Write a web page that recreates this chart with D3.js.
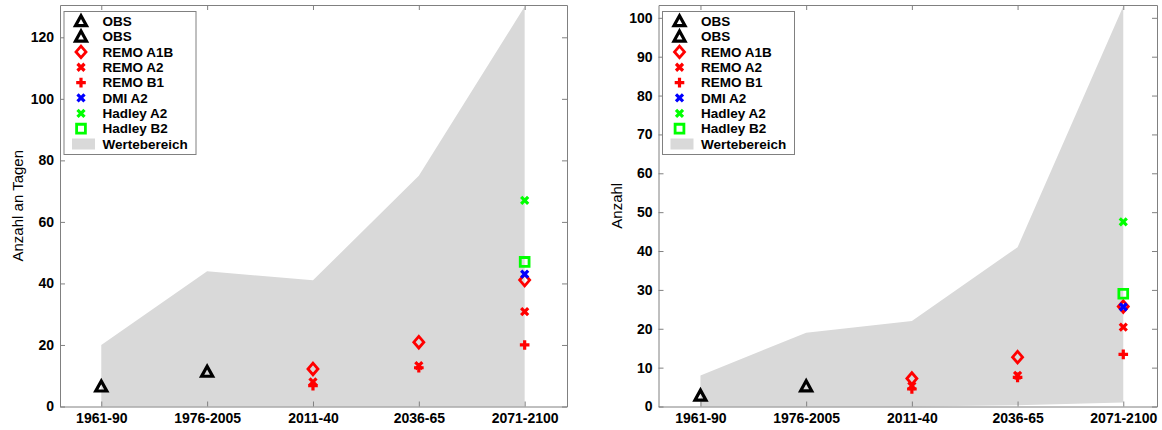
<!DOCTYPE html>
<html>
<head>
<meta charset="utf-8">
<script src="https://cdn.jsdelivr.net/npm/d3@7"></script>
<style>
  body { margin: 0; background: #fff; }
  svg text { font-family: "Liberation Sans", Arial, Helvetica, sans-serif; }
</style>
</head>
<body>
<div id="chart"></div>
<script>
// categories (time periods)
var periods = ['1961-90', '1976-2005', '2011-40', '2036-65', '2071-2100'];

// left panel: Anzahl an Tagen
var leftObs1     = [6.5, null, null, null, null];
var leftObs2     = [null, 11.3, null, null, null];
var leftRemoA1B  = [null, null, 12.2, 20.9, 41.1];
var leftRemoA2   = [null, null, 8.0, 13.3, 30.8];
var leftRemoB1   = [null, null, 6.8, 12.6, 20.0];
var leftDmiA2    = [null, null, null, null, 43.0];
var leftHadA2    = [null, null, null, null, 67.0];
var leftHadB2    = [null, null, null, null, 47.0];
var leftRangeLo  = [0, 0, 0, 0, 0];
var leftRangeHi  = [20, 44, 41, 75, 130];
var leftTicks    = [0, 20, 40, 60, 80, 100, 120];

// right panel: Anzahl
var rightObs1    = [2.8, null, null, null, null];
var rightObs2    = [null, 5.2, null, null, null];
var rightRemoA1B = [null, null, 7.2, 12.7, 25.7];
var rightRemoA2  = [null, null, 5.3, 8.0, 20.4];
var rightRemoB1  = [null, null, 4.5, 7.5, 13.4];
var rightDmiA2   = [null, null, null, null, 25.6];
var rightHadA2   = [null, null, null, null, 47.5];
var rightHadB2   = [null, null, null, null, 29.0];
var rightRangeLo = [0, 0, 0, 0.3, 1];
var rightRangeHi = [8, 19, 22, 41, 103];
var rightTicks   = [0, 10, 20, 30, 40, 50, 60, 70, 80, 90, 100];

var legendNames = ['OBS', 'OBS', 'REMO A1B', 'REMO A2', 'REMO B1', 'DMI A2', 'Hadley A2', 'Hadley B2'];
var legendSymbols = ['tri', 'tri', 'diamond', 'cross', 'plus', 'cross', 'cross', 'square'];
var legendColors = ['#000000', '#000000', '#ff0000', '#ff0000', '#ff0000', '#0000ff', '#00ff00', '#00ff00'];

var rangeColor = '#d9d9d9';
var axisColor = '#808080';

var svg = d3.select('#chart').append('svg')
  .attr('width', 1162)
  .attr('height', 430);

// symbol path + stroke width
function symbolPath(type) {
  switch (type) {
    case 'tri': return 'M0,-5.5L5.5,4.5L-5.5,4.5Z';
    case 'diamond': return 'M0,-5.8L5,0L0,5.8L-5,0Z';
    case 'cross': return 'M-3.5,-3.5L3.5,3.5M-3.5,3.5L3.5,-3.5';
    case 'plus': return 'M-4.8,0L4.8,0M0,-4.8L0,4.8';
    case 'square': return 'M-4.4,-4.4L4.4,-4.4L4.4,4.4L-4.4,4.4Z';
  }
}
function symbolWidth(type) {
  if (type == 'tri') return 3.2;
  if (type == 'cross' || type == 'plus') return 3.2;
  return 2.8;
}

function drawPanel(opt) {
  var g = svg.append('g');

  var x = d3.scaleLinear().domain(opt.xDomain).range([opt.left, opt.right]);
  var y = d3.scaleLinear().domain(opt.yDomain).range([opt.bottom, opt.top]);

  // range polygon (Wertebereich)
  var area = d3.area()
    .x(function(d, i) { return x(i + 1); })
    .y0(function(d, i) { return y(opt.lo[i]); })
    .y1(function(d) { return y(d); });
  g.append('path')
    .datum(opt.hi)
    .attr('d', area)
    .attr('fill', rangeColor);

  // axes box
  var yAxisL = d3.axisLeft(y).tickValues(opt.ticks).tickSizeInner(-5).tickSizeOuter(0).tickPadding(6);
  var yAxisR = d3.axisRight(y).tickValues(opt.ticks).tickSizeInner(-5).tickSizeOuter(0).tickFormat('');
  var xAxisB = d3.axisBottom(x).tickValues([1, 2, 3, 4, 5]).tickSizeInner(-5).tickSizeOuter(0).tickPadding(6.5)
    .tickFormat(function(d) { return periods[d - 1]; });
  var xAxisT = d3.axisTop(x).tickValues([1, 2, 3, 4, 5]).tickSizeInner(-5).tickSizeOuter(0).tickFormat('');

  var axes = [
    g.append('g').attr('transform', 'translate(' + opt.left + ',0)').call(yAxisL),
    g.append('g').attr('transform', 'translate(' + opt.right + ',0)').call(yAxisR),
    g.append('g').attr('transform', 'translate(0,' + opt.bottom + ')').call(xAxisB),
    g.append('g').attr('transform', 'translate(0,' + opt.top + ')').call(xAxisT)
  ];
  axes.forEach(function(a) {
    a.select('.domain').attr('stroke', axisColor).attr('stroke-width', 1);
    a.selectAll('.tick line').attr('stroke', axisColor);
    a.selectAll('.tick text')
      .attr('fill', '#000')
      .style('font-size', '14px')
      .style('font-weight', 'bold');
  });

  // y label
  g.append('text')
    .attr('transform', 'translate(' + opt.labelX + ',' + ((opt.top + opt.bottom) / 2) + ') rotate(-90)')
    .attr('text-anchor', 'middle')
    .style('font-size', '15px')
    .text(opt.label);

  // markers
  opt.series.forEach(function(values, s) {
    var type = legendSymbols[s];
    values.forEach(function(v, i) {
      if (v === null) return;
      g.append('path')
        .attr('d', symbolPath(type))
        .attr('transform', 'translate(' + x(i + 1) + ',' + y(v) + ')')
        .attr('fill', 'none')
        .attr('stroke', legendColors[s])
        .attr('stroke-width', symbolWidth(type))
        .attr('stroke-linejoin', 'miter');
    });
  });

  // legend
  var lx = opt.left + 4, ly = opt.top + 6.5;
  var leg = g.append('g');
  leg.append('rect')
    .attr('x', lx).attr('y', ly)
    .attr('width', 132).attr('height', 143)
    .attr('fill', '#fff')
    .attr('stroke', axisColor);
  legendNames.forEach(function(name, i) {
    var cy = ly + 9.7 + i * 15.35;
    leg.append('path')
      .attr('d', symbolPath(legendSymbols[i]))
      .attr('transform', 'translate(' + (lx + 17) + ',' + cy + ')')
      .attr('fill', 'none')
      .attr('stroke', legendColors[i])
      .attr('stroke-width', symbolWidth(legendSymbols[i]));
    leg.append('text')
      .attr('x', lx + 38.5).attr('y', cy + 4.8)
      .style('font-size', '13.5px')
      .style('font-weight', 'bold')
      .text(name);
  });
  var wy = ly + 9.7 + 8 * 15.35;
  leg.append('rect')
    .attr('x', lx + 8).attr('y', wy - 5.5)
    .attr('width', 23).attr('height', 11)
    .attr('fill', rangeColor);
  leg.append('text')
    .attr('x', lx + 38.5).attr('y', wy + 4.8)
    .style('font-size', '13.5px')
    .style('font-weight', 'bold')
    .text('Wertebereich');
}

drawPanel({
  left: 60, right: 567, top: 5, bottom: 406.5,
  xDomain: [0.61, 5.4], yDomain: [0, 130.5],
  ticks: leftTicks, lo: leftRangeLo, hi: leftRangeHi,
  label: 'Anzahl an Tagen', labelX: 23,
  series: [leftObs1, leftObs2, leftRemoA1B, leftRemoA2, leftRemoB1, leftDmiA2, leftHadA2, leftHadB2]
});

drawPanel({
  left: 658.5, right: 1157, top: 5, bottom: 406.5,
  xDomain: [0.603, 5.319], yDomain: [0, 103.3],
  ticks: rightTicks, lo: rightRangeLo, hi: rightRangeHi,
  label: 'Anzahl', labelX: 622,
  series: [rightObs1, rightObs2, rightRemoA1B, rightRemoA2, rightRemoB1, rightDmiA2, rightHadA2, rightHadB2]
});
</script>
</body>
</html>
